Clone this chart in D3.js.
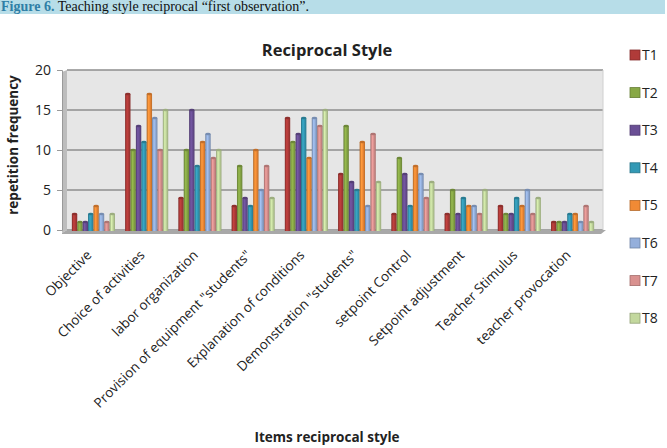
<!DOCTYPE html>
<html>
<head>
<meta charset="utf-8">
<script src="https://cdn.jsdelivr.net/npm/d3@7"></script>
<style>
  body { margin: 0; background: #fff; }
  svg { display: block; }
</style>
</head>
<body>
<div id="chart"></div>
<script>
// data
let categories = ['Objective', 'Choice of activities', 'labor organization',
    'Provision of equipment "students"', 'Explanation of conditions',
    'Demonstration "students"', 'setpoint Control', 'Setpoint adjustment',
    'Teacher Stimulus', 'teacher provocation']
let series = ['T1', 'T2', 'T3', 'T4', 'T5', 'T6', 'T7', 'T8']
let T1 = [2, 17, 4, 3, 14, 7, 2, 2, 3, 1]
let T2 = [1, 10, 10, 8, 11, 13, 9, 5, 2, 1]
let T3 = [1, 13, 15, 4, 12, 6, 7, 2, 2, 1]
let T4 = [2, 11, 8, 3, 14, 5, 3, 4, 4, 2]
let T5 = [3, 17, 11, 10, 9, 11, 8, 3, 3, 2]
let T6 = [2, 14, 12, 5, 14, 3, 7, 3, 5, 1]
let T7 = [1, 10, 9, 8, 13, 12, 4, 2, 2, 3]
let T8 = [2, 15, 10, 4, 15, 6, 6, 5, 4, 1]
let yTicks = [0, 5, 10, 15, 20]

let values = [T1, T2, T3, T4, T5, T6, T7, T8]
let colors = ['#B03B39', '#88A846', '#6A4F95', '#3399B5', '#F08A35', '#94AFDB', '#D9918F', '#C3D89E']

let svgWidth = 667
let svgHeight = 448

let svg = d3.select('#chart')
    .append('svg')
    .attr('width', svgWidth)
    .attr('height', svgHeight)

// cylinder shading
let defs = svg.append('defs')
colors.forEach((c, i) => {
    let g = defs.append('linearGradient')
        .attr('id', 'cyl' + i)
        .attr('x1', '0%').attr('x2', '100%')
    let base = d3.color(c)
    g.append('stop').attr('offset', '0%').attr('stop-color', base.darker(0.9))
    g.append('stop').attr('offset', '35%').attr('stop-color', base.brighter(0.3))
    g.append('stop').attr('offset', '60%').attr('stop-color', base)
    g.append('stop').attr('offset', '100%').attr('stop-color', base.darker(0.7))
})

// caption band
svg.append('rect')
    .attr('x', 0).attr('y', 0)
    .attr('width', 665).attr('height', 14)
    .attr('fill', '#B7DDE8')
let cap = svg.append('text')
    .attr('x', 1).attr('y', 11)
    .style('font-family', '"Liberation Serif", serif')
    .style('font-size', '14px')
cap.append('tspan').attr('fill', '#2F7FA6').style('font-weight', 'bold').text('Figure 6.')
cap.append('tspan').attr('fill', '#111').text(' Teaching style reciprocal \u201Cfirst observation\u201D.')

// scales
let x = d3.scaleBand()
    .domain(categories)
    .range([66, 600])
    .paddingInner(0.19)
    .paddingOuter(0.11)
let xs = d3.scaleBand()
    .domain(series)
    .range([0, x.bandwidth()])
let y = d3.scaleLinear()
    .domain([0, 20])
    .range([230, 70])

// back wall + side wall
svg.append('rect')
    .attr('x', 67).attr('y', y(20))
    .attr('width', 536).attr('height', y(0) - y(20))
    .attr('fill', '#E6E6E6')
svg.append('polygon')
    .attr('points', [[62, y(20) + 2], [67, y(20)], [67, y(0)], [62, y(0) + 3]].join(' '))
    .attr('fill', '#BDBDBD')

// gridlines
svg.append('g')
    .selectAll('line')
    .data(yTicks)
    .join('line')
    .attr('x1', 67).attr('x2', 603)
    .attr('y1', d => y(d)).attr('y2', d => y(d))
    .attr('stroke', '#8E8E8E')
    .attr('stroke-width', 1.5)
svg.append('line')
    .attr('x1', 603).attr('x2', 603)
    .attr('y1', y(20)).attr('y2', y(0))
    .attr('stroke', '#D0D0D0')

// floor
svg.append('polygon')
    .attr('points', [[62, y(0) + 3], [67, y(0)], [606, y(0)], [601, y(0) + 4], [62, y(0) + 4]].join(' '))
    .attr('fill', '#A8A8A8')

// y axis
let yAxis = d3.axisLeft(y)
    .tickValues(yTicks)
    .tickSize(5)
    .tickPadding(6)
let ya = svg.append('g')
    .attr('transform', 'translate(62,0)')
    .call(yAxis)
ya.select('.domain').attr('stroke', '#9A9A9A')
ya.selectAll('.tick line').attr('stroke', '#9A9A9A')
ya.selectAll('.tick text')
    .attr('fill', '#222')
    .style('font-family', '"Open Sans", sans-serif')
    .style('font-size', '14px')

// bars
let groups = svg.append('g')
    .selectAll('g')
    .data(series)
    .join('g')

groups.each(function(s, i) {
    let g = d3.select(this)
    let rows = values[i].map((v, j) => ({ cat: categories[j], v: v }))
    let w = xs.bandwidth()
    g.selectAll('rect')
        .data(rows)
        .join('rect')
        .attr('x', d => x(d.cat) + xs(s))
        .attr('y', d => y(d.v))
        .attr('width', w)
        .attr('height', d => y(0) - y(d.v) + 1)
        .attr('fill', 'url(#cyl' + i + ')')
    g.selectAll('ellipse')
        .data(rows)
        .join('ellipse')
        .attr('cx', d => x(d.cat) + xs(s) + w / 2)
        .attr('cy', d => y(d.v))
        .attr('rx', w / 2)
        .attr('ry', 1.3)
        .attr('fill', d3.color(colors[i]).darker(0.6))
})

// category labels
svg.append('g')
    .selectAll('text')
    .data(categories)
    .join('text')
    .attr('transform', d => 'translate(' + (x(d) + x.bandwidth() / 2 - 1) + ',256) rotate(-45)')
    .attr('text-anchor', 'end')
    .attr('fill', '#222')
    .style('font-family', '"Open Sans", sans-serif')
    .style('font-size', '13.5px')
    .text(d => d)

// titles
svg.append('text')
    .attr('x', 327).attr('y', 56)
    .attr('text-anchor', 'middle')
    .style('font-family', '"Open Sans", sans-serif')
    .style('font-weight', 'bold')
    .style('font-size', '16.5px')
    .attr('fill', '#222')
    .text('Reciprocal Style')

svg.append('text')
    .attr('x', 327).attr('y', 442)
    .attr('text-anchor', 'middle')
    .style('font-family', '"Open Sans", sans-serif')
    .style('font-weight', 'bold')
    .style('font-size', '13.5px')
    .attr('fill', '#222')
    .text('Items reciprocal style')

svg.append('text')
    .attr('transform', 'translate(18,145) rotate(-90)')
    .attr('text-anchor', 'middle')
    .style('font-family', '"Open Sans", sans-serif')
    .style('font-weight', 'bold')
    .style('font-size', '13.5px')
    .attr('fill', '#222')
    .text('repetition frequency')

// legend
let legend = svg.append('g')
    .selectAll('g')
    .data(series)
    .join('g')
    .attr('transform', (d, i) => 'translate(630,' + (55 + i * 37.6) + ')')
legend.append('rect')
    .attr('x', 0).attr('y', -5)
    .attr('width', 10).attr('height', 10)
    .attr('fill', (d, i) => colors[i])
    .attr('stroke', (d, i) => d3.color(colors[i]).darker(0.8))
    .attr('stroke-width', 0.8)
legend.append('text')
    .attr('x', 12).attr('y', 0)
    .attr('dy', '0.36em')
    .attr('fill', '#222')
    .style('font-family', '"Open Sans", sans-serif')
    .style('font-size', '14px')
    .text(d => d)
</script>
</body>
</html>
